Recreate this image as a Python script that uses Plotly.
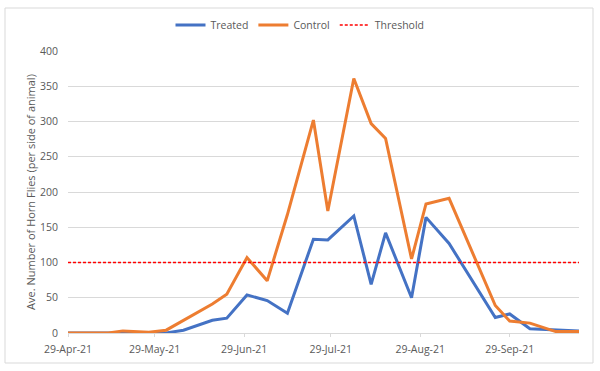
import plotly.graph_objects as go

dates = ["2021-04-29", "2021-05-06", "2021-05-13", "2021-05-18", "2021-05-27",
         "2021-06-02", "2021-06-08", "2021-06-18", "2021-06-23", "2021-06-30",
         "2021-07-07", "2021-07-14", "2021-07-23", "2021-07-28", "2021-08-06",
         "2021-08-12", "2021-08-17", "2021-08-26", "2021-08-31", "2021-09-08",
         "2021-09-24", "2021-09-29", "2021-10-06", "2021-10-15", "2021-10-23"]
treated = [0, 0, 0, 0, 0, 0, 4, 18, 21, 54, 46, 28, 133, 132, 166, 69, 142, 50,
           164, 127, 22, 27, 6, 4, 3]
control = [0, 0, 0, 3, 1, 4, 18, 41, 55, 107, 74, 168, 302, 173, 361, 297, 276,
           105, 183, 191, 39, 17, 14, 2, 2]
threshold = 100
tick_dates = ["2021-04-29", "2021-05-29", "2021-06-29", "2021-07-29",
              "2021-08-29", "2021-09-29"]
tick_labels = ["29-Apr-21", "29-May-21", "29-Jun-21", "29-Jul-21",
               "29-Aug-21", "29-Sep-21"]
y_ticks = [0, 50, 100, 150, 200, 250, 300, 350, 400]

grey = "#595959"
fnt = "Open Sans"

fig = go.Figure()
fig.add_trace(go.Scatter(x=dates, y=treated, mode="lines", name="Treated",
                         line=dict(color="#4472C4", width=3)))
fig.add_trace(go.Scatter(x=dates, y=control, mode="lines", name="Control",
                         line=dict(color="#ED7D31", width=3)))
fig.add_trace(go.Scatter(x=[dates[0], dates[-1]], y=[threshold, threshold],
                         mode="lines", name="Threshold",
                         line=dict(color="#FF0000", width=1.5, dash="3px,2px")))

fig.update_layout(
    width=600, height=371,
    margin=dict(l=68, r=21, t=51, b=38, autoexpand=False),
    paper_bgcolor="white", plot_bgcolor="white",
    font=dict(family=fnt, size=10, color=grey),
    showlegend=True,
    legend=dict(orientation="h", x=0.5, xanchor="center", xref="container",
                y=1 - 25 / 371, yref="container", yanchor="middle",
                font=dict(size=10.5, color=grey),
                itemwidth=30, traceorder="normal"),
    xaxis=dict(type="date", range=[dates[0], dates[-1]],
               tickvals=tick_dates, ticktext=tick_labels,
               showgrid=False, showline=True, linecolor="#d9d9d9", linewidth=1,
               ticks="outside", ticklen=3, tickcolor="#d9d9d9",
               ticklabelstandoff=3, automargin=False,
               tickfont=dict(size=10.5, color=grey), zeroline=False),
    yaxis=dict(range=[0, 400], tickvals=y_ticks, showgrid=True,
               gridcolor="#d9d9d9", gridwidth=1, zeroline=False,
               showline=False, ticks="", ticklen=0, ticklabelstandoff=9,
               tickfont=dict(size=10.5, color=grey), automargin=False,
               title=dict(text="Ave. Number of Horn Flies (per side of animal)",
                          font=dict(size=11, color=grey), standoff=2)),
    shapes=[dict(type="rect", xref="paper", yref="paper",
                 x0=-63/511, x1=525/511, y0=-30/282, y1=(333-8)/282,
                 line=dict(color="#d9d9d9", width=1), layer="below")],
)

fig.write_html("out.html", config={"displayModeBar": False},
               post_script="document.body.style.margin='0';")
